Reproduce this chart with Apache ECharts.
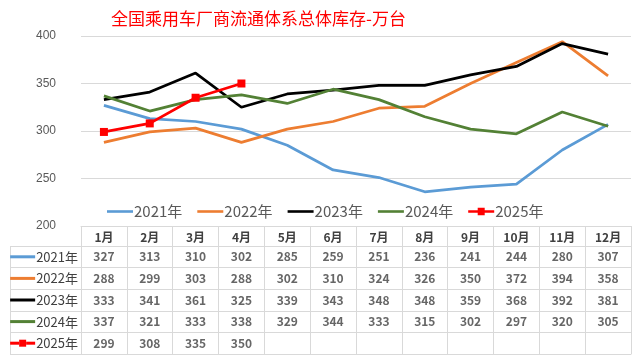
<!DOCTYPE html>
<html><head><meta charset="utf-8">
<script src="https://cdn.jsdelivr.net/npm/echarts@6/dist/echarts.min.js"></script>
<style>html,body{margin:0;padding:0;background:#fff}#c{width:640px;height:356px}</style>
</head><body><div id="c"></div>
<script>
const months = ['1月','2月','3月','4月','5月','6月','7月','8月','9月','10月','11月','12月'];
const seriesNames = ['2021年','2022年','2023年','2024年','2025年'];
const y2021 = [327,313,310,302,285,259,251,236,241,244,280,307];
const y2022 = [288,299,303,288,302,310,324,326,350,372,394,358];
const y2023 = [333,341,361,325,339,343,348,348,359,368,392,381];
const y2024 = [337,321,333,338,329,344,333,315,302,297,320,305];
const y2025 = [299,308,335,350];
const yTicks = {min:200, max:400, interval:50};
const colors = ['#5b9bd5','#ed7d31','#000000','#538135','#ff0000'];

const allData = [y2021,y2022,y2023,y2024,y2025];
const tableCells = [];
allData.forEach((arr,r)=>arr.forEach((v,m)=>tableCells.push([m,r,v])));

const rich = {t:{fontSize:13,color:'#404040',fontFamily:'Noto Sans CJK SC',verticalAlign:'middle',padding:[0,0,0,1]}};
colors.forEach((c,i)=>{
  rich['s'+i] = {width:25,height:3,backgroundColor:c,verticalAlign:'middle'};
});
rich.a = {width:9,height:3,backgroundColor:'#ff0000',verticalAlign:'middle'};
rich.m = {width:7,height:7,backgroundColor:'#ff0000',verticalAlign:'middle'};

const lineIcon = 'path://M0,3h26v2.6h-26z';
const markIcon = 'path://M0,3h26v2.6h-26z M9.5,0.5h7v7.6h-7z';

const chart = echarts.init(document.getElementById('c'));
chart.setOption({
  animation:false,
  title:{text:'全国乘用车厂商流通体系总体库存-万台',left:106,top:5,
    textStyle:{color:'#ff0000',fontSize:17,fontWeight:'normal',fontFamily:'Noto Sans CJK SC'}},
  legend:{data:seriesNames.map((n,i)=>({name:n,icon:i===4?markIcon:lineIcon})),
    left:102,top:199,itemWidth:26,itemHeight:9,itemGap:15,
    textStyle:{color:'#595959',fontSize:15,fontFamily:'Noto Sans CJK SC',padding:[0,0,0,-4]}},
  grid:[
    {left:81,right:9,top:36,height:190},
    {left:81,right:9,top:246,height:108}
  ],
  xAxis:[
    {type:'category',data:months,gridIndex:0,boundaryGap:true,
     axisLine:{lineStyle:{color:'#d9d9d9'}},
     axisTick:{show:true,length:20,interval:0,lineStyle:{color:'#d9d9d9'}},
     axisLabel:{margin:5,color:'#404040',fontSize:12,fontWeight:'bold',fontFamily:'Noto Sans CJK SC',interval:0}},
    {type:'category',data:months,gridIndex:1,boundaryGap:true,
     axisLine:{lineStyle:{color:'#d9d9d9'}},axisTick:{show:false},axisLabel:{show:false},
     splitLine:{show:true,interval:0,lineStyle:{color:'#d9d9d9'}}}
  ],
  yAxis:[
    {type:'value',gridIndex:0,min:yTicks.min,max:yTicks.max,interval:yTicks.interval,
     axisLine:{show:false},axisTick:{show:false},
     axisLabel:{margin:25,color:'#595959',fontSize:12,fontFamily:'Liberation Sans'},
     splitLine:{lineStyle:{color:'#d9d9d9'}}},
    {type:'category',gridIndex:1,data:seriesNames,inverse:true,
     axisLine:{show:true,lineStyle:{color:'#d9d9d9'}},
     axisTick:{show:true,length:71,interval:0,lineStyle:{color:'#d9d9d9'}},
     splitLine:{show:true,interval:0,lineStyle:{color:'#d9d9d9'}},
     axisLabel:{margin:3,interval:0,rich:rich,
       formatter:(v,i)=> i===4 ? '{a|}{m|}{a|}{t|'+v+'}' : '{s'+i+'|}{t|'+v+'}'}}
  ],
  graphic:[{type:'line',shape:{x1:10.5,y1:246,x2:10.5,y2:354},style:{stroke:'#d9d9d9',lineWidth:1}}],
  series:[
    ...allData.map((d,i)=>({
      name:seriesNames[i],type:'line',data:d,xAxisIndex:0,yAxisIndex:0,
      color:colors[i],lineStyle:{width:2.75,color:colors[i]},
      symbol: i===4 ? 'rect' : 'none', symbolSize:8, showSymbol: i===4,
      itemStyle:{color:colors[i]}, z: i===4?5:2
    })),
    {type:'scatter',name:'table',xAxisIndex:1,yAxisIndex:1,data:tableCells,symbolSize:0,
     label:{show:true,position:'inside',formatter:p=>p.value[2],color:'#404040',fontSize:12,fontWeight:'bold',fontFamily:'Noto Sans CJK SC'}}
  ]
});
</script></body></html>
